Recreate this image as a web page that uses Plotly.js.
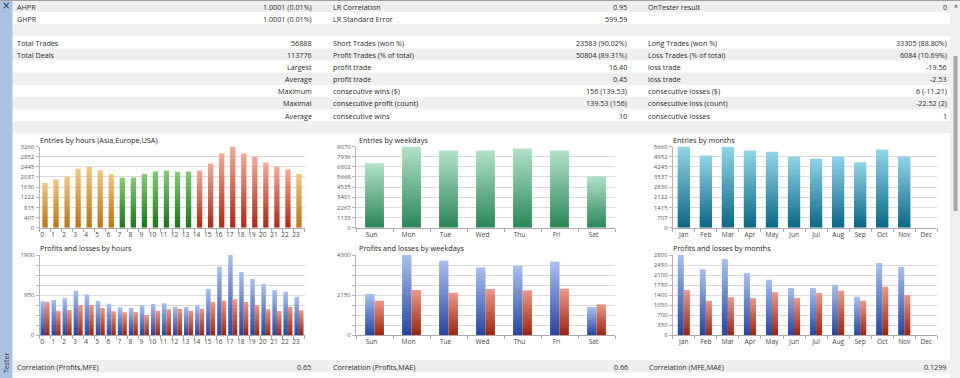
<!DOCTYPE html>
<html>
<head>
<meta charset="utf-8">
<script src="https://cdn.plot.ly/plotly-3.0.1.min.js"></script>
<style>
html,body{margin:0;padding:0;background:#fff;overflow:hidden;}
#chart{width:960px;height:378px;}
</style>
</head>
<body>
<div id="chart"></div>
<script>
// ---------------- DATA ----------------
const hours = ['0','1','2','3','4','5','6','7','8','9','10','11','12','13','14','15','16','17','18','19','20','21','22','23'];
const hourSession = ['Asia','Asia','Asia','Asia','Asia','Asia','Asia','Europe','Europe','Europe','Europe','Europe','Europe','Europe','USA','USA','USA','USA','USA','USA','USA','USA','USA','Asia'];
const hourEntries = [1790,1937,2057,2365,2445,2311,2151,2004,2017,2151,2258,2298,2244,2258,2298,2578,2979,3260,2979,2846,2618,2458,2338,2151];
const hourProfits = [800,831,871,1053,966,807,744,657,641,704,736,752,673,665,704,1092,1623,1900,1496,1330,1211,1069,1029,910];
const hourLosses = [784,578,594,712,712,641,562,538,546,475,578,610,625,578,625,784,815,847,784,712,610,570,673,586];

const weekdays = ['Sun','Mon','Tue','Wed','Thu','Fri','Sat'];
const weekdayEntries = [7211,9070,8624,8624,8846,8624,5730];
const weekdayProfits = [2204,4300,3996,3638,3709,3942,1505];
const weekdayLosses = [1846,2419,2276,2473,2401,2491,1649];

const months = ['Jan','Feb','Mar','Apr','May','Jun','Jul','Aug','Sep','Oct','Nov','Dec'];
const monthEntries = [5660,5034,5650,5382,5290,4965,4826,4965,4570,5452,4965,0];
const monthProfits = [2800,2298,2660,2170,1937,1645,1645,1762,1342,2520,2392,0];
const monthLosses = [1575,1202,1318,1295,1493,1307,1470,1552,1202,1692,1400,0];

const hourEntryTicks = ['0','407','815','1222','1630','2037','2445','2852','3260'];
const weekdayEntryTicks = ['0','1133','2267','3401','4535','5668','6802','7936','9070'];
const monthEntryTicks = ['0','707','1415','2122','2830','3537','4245','4952','5660'];
const hourPLTicks = ['0','','','','950','','','','1900'];
const weekdayPLTicks = ['0','','','','2150','','','','4300'];
const monthPLTicks = ['0','350','700','1050','1400','1750','2100','2450','2800'];

const chartTitles = ['Entries by hours (Asia,Europe,USA)','Entries by weekdays','Entries by months',
  'Profits and losses by hours','Profits and losses by weekdays','Profits and losses by months'];

const statLabels1 = ['AHPR','GHPR','','Total Trades','Total Deals','','','','',''];
const statValues1 = ['1.0001 (0.01%)','1.0001 (0.01%)','','56888','113776','Largest','Average','Maximum','Maximal','Average'];
const statLabels2 = ['LR Correlation','LR Standard Error','','Short Trades (won %)','Profit Trades (% of total)','profit trade','profit trade','consecutive wins ($)','consecutive profit (count)','consecutive wins'];
const statValues2 = ['0.95','599.59','','23583 (90.02%)','50804 (89.31%)','16.40','0.45','156 (139.53)','139.53 (156)','10'];
const statLabels3 = ['OnTester result','','','Long Trades (won %)','Loss Trades (% of total)','loss trade','loss trade','consecutive losses ($)','consecutive loss (count)','consecutive losses'];
const statValues3 = ['0','','','33305 (88.80%)','6084 (10.69%)','-19.56','-2.53','6 (-11.21)','-22.52 (2)','1'];
const corrLabels = ['Correlation (Profits,MFE)','Correlation (Profits,MAE)','Correlation (MFE,MAE)'];
const corrValues = ['0.65','0.66','0.1299'];

// ---------------- STYLE ----------------
const W = 960, H = 378;
const px = x => x / W;
const py = y => 1 - y / H;
const FONT = 'Open Sans, Noto Sans, sans-serif';
const TXT = '#2a2a2a';

const palette = {
  Asia:   {solid:'#d99a3d', top:'#f1c882', bottom:'#bb740e'},
  Europe: {solid:'#4aa046', top:'#86cc74', bottom:'#1b7619'},
  USA:    {solid:'#d9604a', top:'#f5aa96', bottom:'#ac2916'},
  week:   {solid:'#66b88e', top:'#b2e2c9', bottom:'#2a8656'},
  month:  {solid:'#3c9fba', top:'#93d5e8', bottom:'#0a6785'},
  profit: {solid:'#5b78c8', top:'#a9c1f0', bottom:'#27469e'},
  loss:   {solid:'#c8503c', top:'#ec9a88', bottom:'#9c2412'}
};

// geometry of the six plot areas (pixels)
const colX = [[39.5,304.5],[356,615],[672.8,937.3]];
const rowY = [[146.5,227.7],[255,335]];

const layout = {
  width: W, height: H,
  margin: {l:0,r:0,t:0,b:0},
  paper_bgcolor: '#ffffff',
  plot_bgcolor: 'rgba(0,0,0,0)',
  showlegend: false,
  barmode: 'overlay',
  font: {family: FONT, size: 7, color: TXT},
  shapes: [], annotations: []
};

const yTickSets = [hourEntryTicks, weekdayEntryTicks, monthEntryTicks, hourPLTicks, weekdayPLTicks, monthPLTicks];
const yMax = [3260, 9070, 5660, 1900, 4300, 2800];
const xCats = [hours, weekdays, months, hours, weekdays, months];
const xShift = [-3, -3, 0, -3, -3, 0];

for (let k = 0; k < 6; k++) {
  const c = k % 3, r = Math.floor(k / 3);
  const n = k === 0 ? '' : String(k + 1);
  const ticks = yTickSets[k];
  layout['xaxis' + n] = {
    domain: [px(colX[c][0]), px(colX[c][1])],
    anchor: 'y' + n,
    type: 'category',
    categoryorder: 'array', categoryarray: xCats[k],
    range: [-0.5, xCats[k].length - 0.5],
    showgrid: false, zeroline: false,
    showline: true, linecolor: '#a9a9a9', linewidth: 1,
    ticks: 'outside', tickson: 'boundaries', ticklen: 3, tickcolor: '#a9a9a9',
    tickangle: 0,
    tickfont: {family: FONT, size: 6.6, color: '#444'},
    ticklabelshift: xShift[k],
    fixedrange: true
  };
  layout['yaxis' + n] = {
    domain: [py(rowY[r][1]), py(rowY[r][0])],
    anchor: 'x' + n,
    range: [0, yMax[k]],
    tickmode: 'array',
    tickvals: ticks.map((t, i) => yMax[k] * i / (ticks.length - 1)),
    ticktext: ticks,
    showgrid: true, gridcolor: '#dadada', gridwidth: 1,
    zeroline: false,
    showline: true, linecolor: '#b4b4b4', linewidth: 1,
    ticks: 'outside', ticklen: 3, tickcolor: '#b4b4b4',
    tickfont: {family: FONT, size: 6, color: '#555'},
    fixedrange: true
  };
  layout.annotations.push({
    xref:'paper', yref:'paper', x: px(k===0||k===3 ? 39 : (c===1 ? 358 : 672)), y: py(r===0 ? 140 : 247.5),
    xanchor:'left', yanchor:'middle', showarrow:false, borderpad:0,
    text: chartTitles[k], font:{family:FONT, size:7.3, color:'#222'}
  });
}

const data = [];
function single(xa, ya, cats, vals, colors, width) {
  data.push({type:'bar', x:cats, y:vals, xaxis:xa, yaxis:ya,
    width: width, offset: -width/2,
    marker:{color:colors, line:{width:0}}, hoverinfo:'skip'});
}
function pair(xa, ya, cats, prof, loss, half) {
  data.push({type:'bar', x:cats, y:prof, xaxis:xa, yaxis:ya, width:half, offset:-half,
    marker:{color:palette.profit.solid, line:{width:0}}, hoverinfo:'skip'});
  data.push({type:'bar', x:cats, y:loss, xaxis:xa, yaxis:ya, width:half, offset:0,
    marker:{color:palette.loss.solid, line:{width:0}}, hoverinfo:'skip'});
}
single('x','y', hours, hourEntries, hourSession.map(s => palette[s].solid), 0.48);
single('x2','y2', weekdays, weekdayEntries, palette.week.solid, 0.51);
single('x3','y3', months, monthEntries, palette.month.solid, 0.56);
pair('x4','y4', hours, hourProfits, hourLosses, 0.41);
pair('x5','y5', weekdays, weekdayProfits, weekdayLosses, 0.255);
pair('x6','y6', months, monthProfits, monthLosses, 0.275);

// ---------- table backgrounds & text ----------
const ROWH = 12.1;
const rect = (x0,y0,x1,y1,fill) => ({type:'rect', xref:'paper', yref:'paper', layer:'below',
  x0:px(x0), x1:px(x1), y0:py(y1), y1:py(y0), line:{width:0}, fillcolor:fill});
for (let k = 0; k <= 10; k += 2) layout.shapes.push(rect(12.5, k*ROWH, 950, (k+1)*ROWH, '#efefef'));
layout.shapes.push(rect(12.5, 360, 950, 372.5, '#efefef'));
layout.shapes.push({type:'line', xref:'paper', yref:'paper', x0:0, x1:1, y0:py(0.5), y1:py(0.5), line:{color:'#a0a0a0', width:1}});
layout.shapes.push(rect(0, 0, 12.5, 378, '#a9c2df'));
layout.shapes.push(rect(950, 0, 960, 378, '#f0f0f0'));
layout.shapes.push(rect(953.5, 56, 957.5, 211, '#a6a6a6'));

function txt(x, y, s, anchor, extra) {
  if (!s) return;
  layout.annotations.push(Object.assign({xref:'paper', yref:'paper', x:px(x), y:py(y),
    xanchor:anchor, yanchor:'middle', showarrow:false, borderpad:0, text:s,
    font:{family:FONT, size:7.2, color:TXT}}, extra || {}));
}
for (let k = 0; k < statLabels1.length; k++) {
  const yc = k * ROWH + 6.6;
  txt(16, yc, statLabels1[k], 'left');
  txt(313, yc, statValues1[k], 'right');
  txt(332, yc, statLabels2[k], 'left');
  txt(628, yc, statValues2[k], 'right');
  txt(647, yc, statLabels3[k], 'left');
  txt(948, yc, statValues3[k], 'right');
}
const corrX = [[16,312],[332,629],[648,947]];
for (let k = 0; k < 3; k++) {
  txt(corrX[k][0], 366.5, corrLabels[k], 'left');
  txt(corrX[k][1], 366.5, corrValues[k], 'right');
}
txt(6.2, 6, '×', 'center', {font:{family:'DejaVu Sans, sans-serif', size:10, color:'#2a3a4a'}});
txt(955.7, 5, '▲', 'center', {font:{family:'DejaVu Sans, sans-serif', size:5, color:'#8a8a8a'}});
layout.annotations.push({xref:'paper', yref:'paper', x:px(6), y:py(363), xanchor:'center', yanchor:'middle',
  showarrow:false, textangle:-90, text:'Tester', borderpad:0, font:{family:FONT, size:7, color:'#333'}});

// ---------- render + gradient fills ----------
const gd = document.getElementById('chart');
Plotly.newPlot(gd, data, layout, {staticPlot:true, displayModeBar:false}).then(() => {
  const NS = 'http://www.w3.org/2000/svg';
  const svg = gd.querySelector('svg.main-svg');
  let defs = svg.querySelector('defs');
  if (!defs) { defs = document.createElementNS(NS, 'defs'); svg.insertBefore(defs, svg.firstChild); }
  const lookup = {};
  Object.keys(palette).forEach(key => {
    const p = palette[key];
    const g = document.createElementNS(NS, 'linearGradient');
    g.setAttribute('id', 'grad-' + key);
    g.setAttribute('x1', '0'); g.setAttribute('y1', '0');
    g.setAttribute('x2', '0'); g.setAttribute('y2', '1');
    [[0, p.top], [1, p.bottom]].forEach(([o, c]) => {
      const s = document.createElementNS(NS, 'stop');
      s.setAttribute('offset', o); s.setAttribute('stop-color', c);
      g.appendChild(s);
    });
    defs.appendChild(g);
    const h = p.solid.replace('#','');
    const rgb = [0,2,4].map(i => parseInt(h.substr(i,2),16)).join(',');
    lookup[rgb] = 'url(#grad-' + key + ')';
  });
  gd.querySelectorAll('.barlayer path').forEach(el => {
    const m = (el.style.fill || '').match(/\d+/g);
    if (!m) return;
    const key = m.slice(0,3).join(',');
    if (lookup[key]) el.style.fill = lookup[key];
  });
});
</script>
</body>
</html>
